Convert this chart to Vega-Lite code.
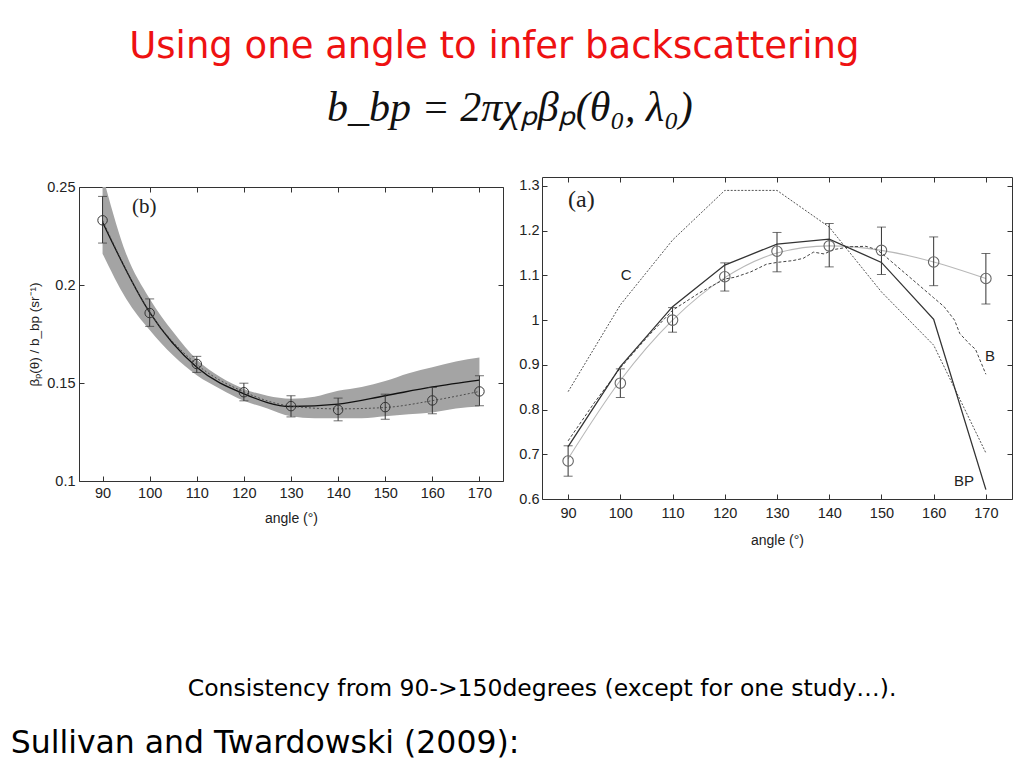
{
  "$schema": "https://vega.github.io/schema/vega-lite/v6.json",
  "background": "white",
  "padding": {"top": 28, "left": 10, "right": 8, "bottom": 5},
  "config": {
    "view": {"stroke": "#333", "strokeWidth": 1},
    "axis": {
      "labelFont": "Liberation Sans", "labelFontSize": 14.5, "labelColor": "#222",
      "titleFont": "Liberation Sans", "titleFontSize": 14, "titleFontWeight": "normal", "titleColor": "#222",
      "domain": false, "grid": false, "tickColor": "#333", "tickSize": -5
    },
    "axisX": {"labelPadding": 10},
    "axisY": {"labelPadding": 9}
  },
  "datasets": {
    "bCircles": [
      {"angle": 90, "v": 0.233, "lo": 0.2214, "hi": 0.2452},
      {"angle": 100, "v": 0.1857, "lo": 0.1789, "hi": 0.1929},
      {"angle": 110, "v": 0.1597, "lo": 0.1554, "hi": 0.1636},
      {"angle": 120, "v": 0.1453, "lo": 0.1409, "hi": 0.1499},
      {"angle": 130, "v": 0.1382, "lo": 0.1327, "hi": 0.1435},
      {"angle": 140, "v": 0.1363, "lo": 0.1307, "hi": 0.1423},
      {"angle": 150, "v": 0.1377, "lo": 0.1315, "hi": 0.1443},
      {"angle": 160, "v": 0.1411, "lo": 0.1343, "hi": 0.1477},
      {"angle": 170, "v": 0.1457, "lo": 0.1384, "hi": 0.1537}
    ],
    "bMean": [
      {"angle": 90, "v": 0.232}, {"angle": 100, "v": 0.186}, {"angle": 110, "v": 0.158},
      {"angle": 120, "v": 0.1445}, {"angle": 130, "v": 0.138}, {"angle": 140, "v": 0.1392},
      {"angle": 150, "v": 0.1435}, {"angle": 160, "v": 0.148}, {"angle": 170, "v": 0.1515}
    ],
    "bObs": [
      {"angle": 90, "v": 0.233}, {"angle": 100, "v": 0.1862}, {"angle": 110, "v": 0.1595},
      {"angle": 120, "v": 0.1455}, {"angle": 130, "v": 0.1382}, {"angle": 140, "v": 0.1368},
      {"angle": 150, "v": 0.1375}, {"angle": 160, "v": 0.141}, {"angle": 170, "v": 0.1457}
    ],
    "bBand": [
      {"angle": 90, "lo": 0.216, "hi": 0.256},
      {"angle": 95, "lo": 0.193, "hi": 0.216},
      {"angle": 100, "lo": 0.177, "hi": 0.193},
      {"angle": 105, "lo": 0.164, "hi": 0.176},
      {"angle": 110, "lo": 0.154, "hi": 0.162},
      {"angle": 115, "lo": 0.147, "hi": 0.153},
      {"angle": 120, "lo": 0.141, "hi": 0.147},
      {"angle": 125, "lo": 0.137, "hi": 0.1435},
      {"angle": 130, "lo": 0.133, "hi": 0.142},
      {"angle": 135, "lo": 0.132, "hi": 0.143},
      {"angle": 140, "lo": 0.132, "hi": 0.146},
      {"angle": 145, "lo": 0.132, "hi": 0.148},
      {"angle": 150, "lo": 0.133, "hi": 0.151},
      {"angle": 155, "lo": 0.134, "hi": 0.155},
      {"angle": 160, "lo": 0.135, "hi": 0.158},
      {"angle": 165, "lo": 0.137, "hi": 0.161},
      {"angle": 170, "lo": 0.138, "hi": 0.163}
    ],
    "aCircles": [
      {"angle": 90, "v": 0.685, "lo": 0.651, "hi": 0.719},
      {"angle": 100, "v": 0.859, "lo": 0.827, "hi": 0.891},
      {"angle": 110, "v": 1.0, "lo": 0.973, "hi": 1.028},
      {"angle": 120, "v": 1.097, "lo": 1.065, "hi": 1.128},
      {"angle": 130, "v": 1.154, "lo": 1.108, "hi": 1.196},
      {"angle": 140, "v": 1.166, "lo": 1.119, "hi": 1.216},
      {"angle": 150, "v": 1.156, "lo": 1.102, "hi": 1.208},
      {"angle": 160, "v": 1.13, "lo": 1.077, "hi": 1.186},
      {"angle": 170, "v": 1.093, "lo": 1.036, "hi": 1.149}
    ],
    "aMean": [
      {"angle": 90, "v": 0.69}, {"angle": 100, "v": 0.865}, {"angle": 110, "v": 1.0},
      {"angle": 120, "v": 1.095}, {"angle": 130, "v": 1.15}, {"angle": 140, "v": 1.166},
      {"angle": 150, "v": 1.156}, {"angle": 160, "v": 1.13}, {"angle": 170, "v": 1.093}
    ],
    "aBP": [
      {"angle": 90, "v": 0.717}, {"angle": 100, "v": 0.896}, {"angle": 110, "v": 1.03},
      {"angle": 120, "v": 1.123}, {"angle": 130, "v": 1.17}, {"angle": 140, "v": 1.181},
      {"angle": 150, "v": 1.129}, {"angle": 160, "v": 1.002}, {"angle": 170, "v": 0.621}
    ],
    "aC": [
      {"angle": 90, "v": 0.84}, {"angle": 100, "v": 1.034}, {"angle": 110, "v": 1.179},
      {"angle": 120, "v": 1.29}, {"angle": 130, "v": 1.29}, {"angle": 140, "v": 1.208},
      {"angle": 150, "v": 1.063}, {"angle": 160, "v": 0.944}, {"angle": 170, "v": 0.703}
    ],
    "aB": [
      {"angle": 90, "v": 0.73}, {"angle": 95, "v": 0.815},
      {"angle": 100, "v": 0.893}, {"angle": 105, "v": 0.96},
      {"angle": 110, "v": 1.022}, {"angle": 115, "v": 1.06},
      {"angle": 120, "v": 1.092}, {"angle": 122, "v": 1.096},
      {"angle": 125, "v": 1.108}, {"angle": 128, "v": 1.125},
      {"angle": 130, "v": 1.129}, {"angle": 133, "v": 1.133},
      {"angle": 135, "v": 1.138}, {"angle": 137, "v": 1.152},
      {"angle": 139, "v": 1.148}, {"angle": 141, "v": 1.158},
      {"angle": 144, "v": 1.164}, {"angle": 147, "v": 1.165},
      {"angle": 149, "v": 1.158}, {"angle": 150, "v": 1.15},
      {"angle": 152, "v": 1.13}, {"angle": 155, "v": 1.1},
      {"angle": 158, "v": 1.07}, {"angle": 160, "v": 1.05},
      {"angle": 162, "v": 1.03}, {"angle": 164, "v": 1.0},
      {"angle": 165, "v": 0.97}, {"angle": 167, "v": 0.945},
      {"angle": 168, "v": 0.935}, {"angle": 170, "v": 0.879}
    ],
    "aPanel": [{"angle": 90, "v": 1.2685, "t": "(a)"}],
    "aLabels": [
      {"angle": 101.1, "v": 1.101, "t": "C"},
      {"angle": 170.8, "v": 0.92, "t": "B"},
      {"angle": 165.8, "v": 0.64, "t": "BP"}
    ],
    "bLabels": [
      {"angle": 96.25, "v": 0.2398, "t": "(b)"}
    ]
  },
  "title": {
    "text": "Using one angle to infer backscattering",
    "subtitle": "\u2800b_bp = 2πχₚβₚ(θ₀, λ₀)",
    "anchor": "middle",
    "dx": -17.5,
    "color": "#ee1111",
    "font": "Comic Sans MS, DejaVu Sans",
    "fontSize": 37,
    "fontWeight": "normal",
    "subtitleFont": "Liberation Serif",
    "subtitleFontStyle": "italic",
    "subtitleFontSize": 42,
    "subtitleColor": "#111",
    "subtitlePadding": 22,
    "offset": 46
  },
  "vconcat": [
    {
      "title": {"text": "Sullivan and Twardowski (2009):", "orient": "bottom", "anchor": "start", "font": "Comic Sans MS, DejaVu Sans", "fontSize": 31.5, "fontWeight": "normal", "color": "#000", "offset": 27, "dx": -16.6},
      "vconcat": [
        {
          "title": {"text": "Consistency from 90->150degrees (except for one study…).", "orient": "bottom", "anchor": "middle", "font": "Comic Sans MS, DejaVu Sans", "fontSize": 23.5, "fontWeight": "normal", "color": "#000", "offset": 129, "dx": 22},
          "spacing": 14,
          "hconcat": [
            {
              "spacing": 0,
              "vconcat": [
                {
                  "width": 424,
                  "height": 1,
                  "view": {"stroke": null},
                  "data": {"values": []},
                  "mark": "point",
                  "encoding": {}
                },
                {
                  "width": 424,
                  "height": 294,
                  "resolve": {"axis": {"x": "independent", "y": "independent"}},
                  "layer": [
                    {
                      "data": {"name": "bBand"},
                      "mark": {"type": "area", "color": "#a4a4a4", "interpolate": "monotone", "clip": true},
                      "encoding": {
                        "x": {"field": "angle", "type": "quantitative", "scale": {"domain": [85, 175], "nice": false},
                          "axis": {"values": [90, 100, 110, 120, 130, 140, 150, 160, 170], "title": "angle (°)", "titlePadding": 12}},
                        "y": {"field": "lo", "type": "quantitative", "scale": {"domain": [0.1, 0.25], "nice": false, "zero": false},
                          "axis": {"values": [0.1, 0.15, 0.2, 0.25], "format": "~g", "title": "βₚ(θ) / b_bp (sr⁻¹)", "titleFontSize": 13.5, "titlePadding": 5}},
                        "y2": {"field": "hi"}
                      }
                    },
                    {
                      "data": {"name": "bMean"},
                      "mark": {"type": "line", "interpolate": "monotone", "clip": true, "color": "#111", "strokeWidth": 1.3},
                      "encoding": {
                        "x": {"field": "angle", "type": "quantitative", "axis": null},
                        "y": {"field": "v", "type": "quantitative", "axis": null}
                      }
                    },
                    {
                      "data": {"name": "bObs"},
                      "mark": {"type": "line", "interpolate": "monotone", "clip": true, "color": "#444", "strokeWidth": 0.9, "strokeDash": [2, 2]},
                      "encoding": {
                        "x": {"field": "angle", "type": "quantitative", "axis": null},
                        "y": {"field": "v", "type": "quantitative", "axis": null}
                      }
                    },
                    {
                      "data": {"name": "bCircles"},
                      "mark": {"type": "rule", "color": "#333", "strokeWidth": 1},
                      "encoding": {
                        "x": {"field": "angle", "type": "quantitative", "axis": null},
                        "y": {"field": "lo", "type": "quantitative", "axis": null},
                        "y2": {"field": "hi"}
                      }
                    },
                    {
                      "data": {"name": "bCircles"},
                      "mark": {"type": "tick", "orient": "horizontal", "size": 9, "thickness": 1, "color": "#333"},
                      "encoding": {
                        "x": {"field": "angle", "type": "quantitative", "axis": null},
                        "y": {"field": "lo", "type": "quantitative", "axis": null}
                      }
                    },
                    {
                      "data": {"name": "bCircles"},
                      "mark": {"type": "tick", "orient": "horizontal", "size": 9, "thickness": 1, "color": "#333"},
                      "encoding": {
                        "x": {"field": "angle", "type": "quantitative", "axis": null},
                        "y": {"field": "hi", "type": "quantitative", "axis": null}
                      }
                    },
                    {
                      "data": {"name": "bCircles"},
                      "mark": {"type": "point", "shape": "circle", "filled": false, "size": 90, "stroke": "#333", "strokeWidth": 1, "opacity": 1},
                      "encoding": {
                        "x": {"field": "angle", "type": "quantitative", "axis": {"orient": "top", "values": [90, 100, 110, 120, 130, 140, 150, 160, 170], "labels": false, "title": null}},
                        "y": {"field": "v", "type": "quantitative", "axis": {"orient": "right", "values": [0.1, 0.15, 0.2, 0.25], "labels": false, "title": null}}
                      }
                    },
                    {
                      "data": {"name": "bLabels"},
                      "mark": {"type": "text", "font": "Liberation Serif", "fontSize": 21, "align": "left", "baseline": "middle", "color": "#222"},
                      "encoding": {
                        "x": {"field": "angle", "type": "quantitative", "axis": null},
                        "y": {"field": "v", "type": "quantitative", "axis": null},
                        "text": {"field": "t"}
                      }
                    }
                  ]
                }
              ]
            },
            {
              "width": 470,
              "height": 322,
              "resolve": {"axis": {"x": "independent", "y": "independent"}},
              "layer": [
                {
                  "data": {"name": "aMean"},
                  "mark": {"type": "line", "interpolate": "monotone", "clip": true, "color": "#b8b8b8", "strokeWidth": 1.1},
                  "encoding": {
                    "x": {"field": "angle", "type": "quantitative", "scale": {"domain": [85, 175], "nice": false},
                      "axis": {"values": [90, 100, 110, 120, 130, 140, 150, 160, 170], "title": "angle (°)", "titlePadding": 14, "labelPadding": 12}},
                    "y": {"field": "v", "type": "quantitative", "scale": {"domain": [0.6, 1.32], "nice": false, "zero": false},
                      "axis": {"values": [0.6, 0.7, 0.8, 0.9, 1, 1.1, 1.2, 1.3], "format": "~g", "title": null, "labelPadding": 8}}
                  }
                },
                {
                  "data": {"name": "aC"},
                  "mark": {"type": "line", "clip": true, "color": "#555", "strokeWidth": 1, "strokeDash": [2, 1.5]},
                  "encoding": {
                    "x": {"field": "angle", "type": "quantitative", "axis": null},
                    "y": {"field": "v", "type": "quantitative", "axis": null}
                  }
                },
                {
                  "data": {"name": "aB"},
                  "mark": {"type": "line", "clip": true, "color": "#444", "strokeWidth": 1, "strokeDash": [3, 2]},
                  "encoding": {
                    "x": {"field": "angle", "type": "quantitative", "axis": null},
                    "y": {"field": "v", "type": "quantitative", "axis": null}
                  }
                },
                {
                  "data": {"name": "aBP"},
                  "mark": {"type": "line", "clip": true, "color": "#333", "strokeWidth": 1.3},
                  "encoding": {
                    "x": {"field": "angle", "type": "quantitative", "axis": null},
                    "y": {"field": "v", "type": "quantitative", "axis": null}
                  }
                },
                {
                  "data": {"name": "aCircles"},
                  "mark": {"type": "rule", "color": "#333", "strokeWidth": 1},
                  "encoding": {
                    "x": {"field": "angle", "type": "quantitative", "axis": null},
                    "y": {"field": "lo", "type": "quantitative", "axis": null},
                    "y2": {"field": "hi"}
                  }
                },
                {
                  "data": {"name": "aCircles"},
                  "mark": {"type": "tick", "orient": "horizontal", "size": 9, "thickness": 1, "color": "#333"},
                  "encoding": {
                    "x": {"field": "angle", "type": "quantitative", "axis": null},
                    "y": {"field": "lo", "type": "quantitative", "axis": null}
                  }
                },
                {
                  "data": {"name": "aCircles"},
                  "mark": {"type": "tick", "orient": "horizontal", "size": 9, "thickness": 1, "color": "#333"},
                  "encoding": {
                    "x": {"field": "angle", "type": "quantitative", "axis": null},
                    "y": {"field": "hi", "type": "quantitative", "axis": null}
                  }
                },
                {
                  "data": {"name": "aCircles"},
                  "mark": {"type": "point", "shape": "circle", "filled": false, "size": 110, "stroke": "#666", "strokeWidth": 1.1, "opacity": 1},
                  "encoding": {
                    "x": {"field": "angle", "type": "quantitative", "axis": {"orient": "top", "values": [90, 100, 110, 120, 130, 140, 150, 160, 170], "labels": false, "title": null}},
                    "y": {"field": "v", "type": "quantitative", "axis": {"orient": "right", "values": [0.6, 0.7, 0.8, 0.9, 1, 1.1, 1.2, 1.3], "labels": false, "title": null}}
                  }
                },
                {
                  "data": {"name": "aPanel"},
                  "mark": {"type": "text", "font": "Liberation Serif", "fontSize": 24, "align": "left", "baseline": "middle", "color": "#222"},
                  "encoding": {
                    "x": {"field": "angle", "type": "quantitative", "axis": null},
                    "y": {"field": "v", "type": "quantitative", "axis": null},
                    "text": {"field": "t"}
                  }
                },
                {
                  "data": {"name": "aLabels"},
                  "mark": {"type": "text", "font": "Liberation Sans", "fontSize": 15, "align": "center", "baseline": "middle", "color": "#222"},
                  "encoding": {
                    "x": {"field": "angle", "type": "quantitative", "axis": null},
                    "y": {"field": "v", "type": "quantitative", "axis": null},
                    "text": {"field": "t"}
                  }
                }
              ]
            }
          ]
        }
      ]
    }
  ]
}
